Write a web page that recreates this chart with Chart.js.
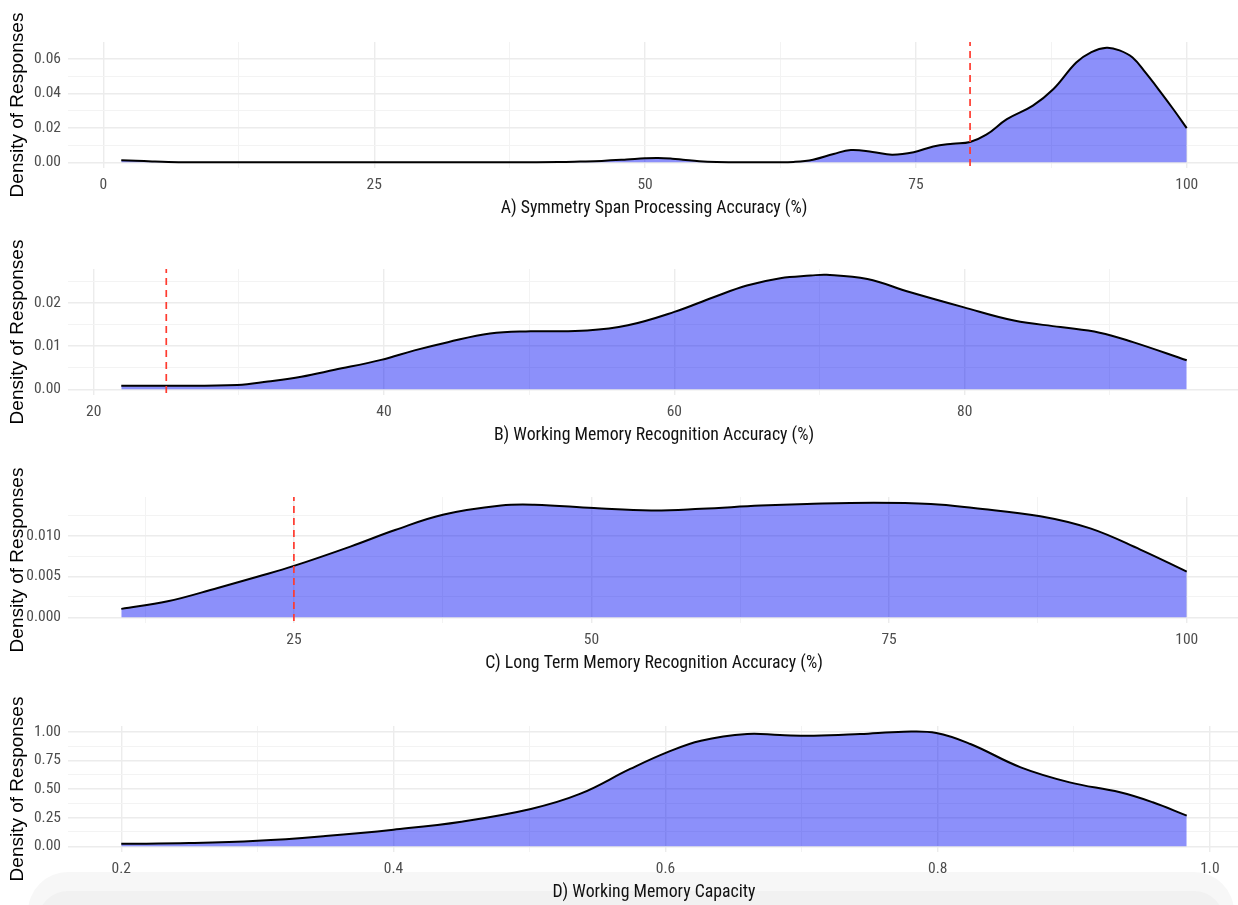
<!DOCTYPE html>
<html>
<head>
<meta charset="utf-8">
<title>Density of Responses</title>
<script src="https://cdn.jsdelivr.net/npm/chart.js@4.4.1/dist/chart.umd.min.js"></script>
<style>
  html, body { margin: 0; padding: 0; background: #fff; }
  body { width: 1238px; height: 905px; position: relative; overflow: hidden; }
  canvas.panel { position: absolute; left: 0; z-index: 2; }
  .shade { position: absolute; z-index: 1; }
</style>
</head>
<body>
<div class="shade" style="left:28px; top:872px; width:1206px; height:80px; border-radius:42px; background:#f7f7f7;"></div>
<div class="shade" style="left:38px; top:891px; width:1186px; height:60px; border-radius:34px; background:#f1f1f1;"></div>

<canvas id="panelA" class="panel" width="1240" height="256" style="top:-18px"></canvas>
<canvas id="panelB" class="panel" width="1240" height="256" style="top:209px"></canvas>
<canvas id="panelC" class="panel" width="1240" height="256" style="top:437px"></canvas>
<canvas id="panelD" class="panel" width="1240" height="256" style="top:666px"></canvas>

<script>
// A) Symmetry span processing accuracy
const symSpanX = [1.65, 3, 4.5, 6, 8, 12, 20, 30, 38, 42, 44, 46, 48.3, 50, 51.2, 52.5, 53.5, 55, 56.6, 58, 62, 63.7, 65.5, 67.4, 69, 71, 72.8, 74.8, 76.6, 78.4, 80, 81.5, 83.4, 85.8, 87.7, 89.8, 91.2, 92.6, 93.8, 95, 96.2, 97.5, 98.8, 100];
const symSpanDensity = [0.0012, 0.0009, 0.0005, 0.0002, 0.00005, 0, 0, 0, 0, 0.0001, 0.0004, 0.0008, 0.0016, 0.0023, 0.0025, 0.0021, 0.0015, 0.0006, 0.0001, 0, 0, 0.0002, 0.0015, 0.0048, 0.0071, 0.0060, 0.0044, 0.0058, 0.0092, 0.0108, 0.0118, 0.0160, 0.0250, 0.0329, 0.0425, 0.0579, 0.0640, 0.0665, 0.0650, 0.0608, 0.0520, 0.0415, 0.0305, 0.0198];
const symSpanXTicks = [0, 25, 50, 75, 100];
const symSpanXMinor = [12.5, 37.5, 62.5, 87.5];
const symSpanXLabels = ['0', '25', '50', '75', '100'];
const symSpanYTicks = [0, 0.02, 0.04, 0.06];
const symSpanYMinor = [0.01, 0.03, 0.05];
const symSpanYLabels = ['0.00', '0.02', '0.04', '0.06'];
const symSpanCutoff = [80];

// B) Working memory recognition accuracy
const wmRecX = [21.9, 25.1, 29.9, 32, 34.3, 36.6, 39.8, 42.1, 44.4, 47.3, 50.1, 54, 56.8, 60, 62.7, 65, 67.3, 69.4, 70.5, 73.3, 76.2, 79.9, 83.4, 86.6, 89.3, 91.6, 95.3];
const wmRecDensity = [0.0008, 0.0008, 0.0010, 0.0018, 0.0029, 0.0045, 0.0068, 0.0090, 0.0109, 0.0129, 0.0134, 0.0136, 0.0148, 0.0179, 0.0213, 0.0240, 0.0257, 0.0263, 0.0265, 0.0255, 0.0225, 0.0190, 0.0159, 0.0144, 0.0131, 0.0109, 0.0067];
const wmRecXTicks = [20, 40, 60, 80];
const wmRecXMinor = [30, 50, 70, 90];
const wmRecXLabels = ['20', '40', '60', '80'];
const wmRecYTicks = [0, 0.01, 0.02];
const wmRecYMinor = [0.005, 0.015, 0.025];
const wmRecYLabels = ['0.00', '0.01', '0.02'];
const wmRecCutoff = [25];

// C) Long term memory recognition accuracy
const ltmRecX = [10.5, 14.4, 18.6, 22, 25, 29.8, 33.5, 37.6, 42.4, 45.2, 50.2, 55, 59.2, 64.2, 68.1, 73.7, 78.5, 82.1, 87.7, 91.9, 96.1, 100];
const ltmRecDensity = [0.00103, 0.00196, 0.0036, 0.0050, 0.0063, 0.0087, 0.0107, 0.0126, 0.0137, 0.0138, 0.0134, 0.0131, 0.0133, 0.0137, 0.0139, 0.01405, 0.0139, 0.0134, 0.0124, 0.0109, 0.0083, 0.0056];
const ltmRecXTicks = [25, 50, 75, 100];
const ltmRecXMinor = [12.5, 37.5, 62.5, 87.5];
const ltmRecXLabels = ['25', '50', '75', '100'];
const ltmRecYTicks = [0, 0.005, 0.01];
const ltmRecYMinor = [0.0025, 0.0075, 0.0125];
const ltmRecYLabels = ['0.000', '0.005', '0.010'];
const ltmRecCutoff = [25];

// D) Working memory capacity
const wmcX = [0.2, 0.25, 0.3, 0.35, 0.4, 0.45, 0.501, 0.537, 0.574, 0.601, 0.626, 0.66, 0.684, 0.709, 0.743, 0.775, 0.799, 0.824, 0.861, 0.897, 0.934, 0.958, 0.983];
const wmcDensity = [0.021, 0.028, 0.048, 0.090, 0.145, 0.215, 0.326, 0.457, 0.675, 0.820, 0.922, 0.980, 0.971, 0.965, 0.980, 1.000, 0.989, 0.893, 0.689, 0.558, 0.471, 0.384, 0.268];
const wmcXTicks = [0.2, 0.4, 0.6, 0.8, 1.0];
const wmcXMinor = [0.3, 0.5, 0.7, 0.9];
const wmcXLabels = ['0.2', '0.4', '0.6', '0.8', '1.0'];
const wmcYTicks = [0, 0.25, 0.5, 0.75, 1.0];
const wmcYMinor = [0.125, 0.375, 0.625, 0.875];
const wmcYLabels = ['0.00', '0.25', '0.50', '0.75', '1.00'];
const wmcCutoff = [];

const narrowFont = '"Liberation Sans Narrow", "Arial Narrow", "Roboto Condensed", "DejaVu Sans Condensed", sans-serif';
const plainFont = '"Liberation Sans", Arial, Helvetica, sans-serif';

// ggplot-style 5% expansion of a range
function expand(lo, hi) {
    const pad = (hi - lo) * 0.05;
    return [lo - pad, hi + pad];
}

function isIn(list, v) {
    return list.some(t => Math.abs(t - v) < 1e-9);
}

function makePanel(id, p) {
    const [xMin, xMax] = expand(p.xs[0], p.xs[p.xs.length - 1]);
    const [yMin, yMax] = expand(0, Math.max(...p.ys));

    const datasets = [];
    // red dashed cutoff lines go first so they sit on top
    p.cutoff.forEach(c => {
        datasets.push({
            data: [{ x: c, y: yMax }, { x: c, y: yMin }],
            borderColor: '#ff3b2f',
            borderWidth: 1.7,
            borderDash: [7, 5],
            borderDashOffset: 3,
            pointRadius: 0,
            fill: false,
            tension: 0
        });
    });
    datasets.push({
        data: p.xs.map((x, i) => ({ x: x, y: p.ys[i] })),
        borderColor: '#000',
        borderWidth: 2,
        backgroundColor: 'rgba(0, 8, 244, 0.45)',
        fill: 'origin',
        pointRadius: 0,
        tension: 0.4
    });

    const allX = p.xMajor.concat(p.xMinor).sort((a, b) => a - b);
    const allY = p.yMajor.concat(p.yMinor).sort((a, b) => a - b);

    const gridOpts = majors => ({
        drawTicks: false,
        color: ctx => isIn(majors, ctx.tick.value) ? '#ececec' : '#f3f3f3',
        lineWidth: ctx => isIn(majors, ctx.tick.value) ? 1.4 : 1
    });

    new Chart(document.getElementById(id), {
        type: 'line',
        data: { datasets: datasets },
        options: {
            responsive: false,
            animation: false,
            devicePixelRatio: 1,
            layout: { padding: { top: 60, right: 0, bottom: 10, left: 0 } },
            plugins: { legend: { display: false }, tooltip: { enabled: false } },
            scales: {
                x: {
                    type: 'linear',
                    min: xMin,
                    max: xMax,
                    afterBuildTicks: s => { s.ticks = allX.map(v => ({ value: v })); },
                    afterFit: s => { s.height = 60; },
                    grid: gridOpts(p.xMajor),
                    border: { display: false },
                    ticks: {
                        autoSkip: false,
                        maxRotation: 0,
                        padding: 8,
                        color: '#4d4d4d',
                        font: { family: narrowFont, size: 15.5 },
                        callback: v => {
                            const i = p.xMajor.findIndex(t => Math.abs(t - v) < 1e-9);
                            return i >= 0 ? p.xLabels[i] : '';
                        }
                    },
                    title: {
                        display: true,
                        text: p.title,
                        color: '#111',
                        font: { family: narrowFont, size: 17.8 },
                        padding: { top: 0, bottom: 8.5 }
                    }
                },
                y: {
                    min: yMin,
                    max: yMax,
                    afterBuildTicks: s => { s.ticks = allY.map(v => ({ value: v })); },
                    afterFit: s => { s.width = 68; },
                    grid: gridOpts(p.yMajor),
                    border: { display: false },
                    ticks: {
                        autoSkip: false,
                        padding: 7,
                        color: '#4d4d4d',
                        font: { family: narrowFont, size: 15.5 },
                        callback: v => {
                            const i = p.yMajor.findIndex(t => Math.abs(t - v) < 1e-12);
                            return i >= 0 ? p.yLabels[i] : '';
                        }
                    },
                    title: {
                        display: true,
                        text: 'Density of Responses',
                        color: '#000',
                        font: { family: plainFont, size: 19 },
                        padding: { top: 6.5, bottom: 0 }
                    }
                }
            }
        }
    });
}

makePanel('panelA', {
    xs: symSpanX, ys: symSpanDensity,
    xMajor: symSpanXTicks, xMinor: symSpanXMinor, xLabels: symSpanXLabels,
    yMajor: symSpanYTicks, yMinor: symSpanYMinor, yLabels: symSpanYLabels,
    cutoff: symSpanCutoff,
    title: 'A) Symmetry Span Processing Accuracy (%)'
});
makePanel('panelB', {
    xs: wmRecX, ys: wmRecDensity,
    xMajor: wmRecXTicks, xMinor: wmRecXMinor, xLabels: wmRecXLabels,
    yMajor: wmRecYTicks, yMinor: wmRecYMinor, yLabels: wmRecYLabels,
    cutoff: wmRecCutoff,
    title: 'B) Working Memory Recognition Accuracy (%)'
});
makePanel('panelC', {
    xs: ltmRecX, ys: ltmRecDensity,
    xMajor: ltmRecXTicks, xMinor: ltmRecXMinor, xLabels: ltmRecXLabels,
    yMajor: ltmRecYTicks, yMinor: ltmRecYMinor, yLabels: ltmRecYLabels,
    cutoff: ltmRecCutoff,
    title: 'C) Long Term Memory Recognition Accuracy (%)'
});
makePanel('panelD', {
    xs: wmcX, ys: wmcDensity,
    xMajor: wmcXTicks, xMinor: wmcXMinor, xLabels: wmcXLabels,
    yMajor: wmcYTicks, yMinor: wmcYMinor, yLabels: wmcYLabels,
    cutoff: wmcCutoff,
    title: 'D) Working Memory Capacity'
});
</script>
</body>
</html>
